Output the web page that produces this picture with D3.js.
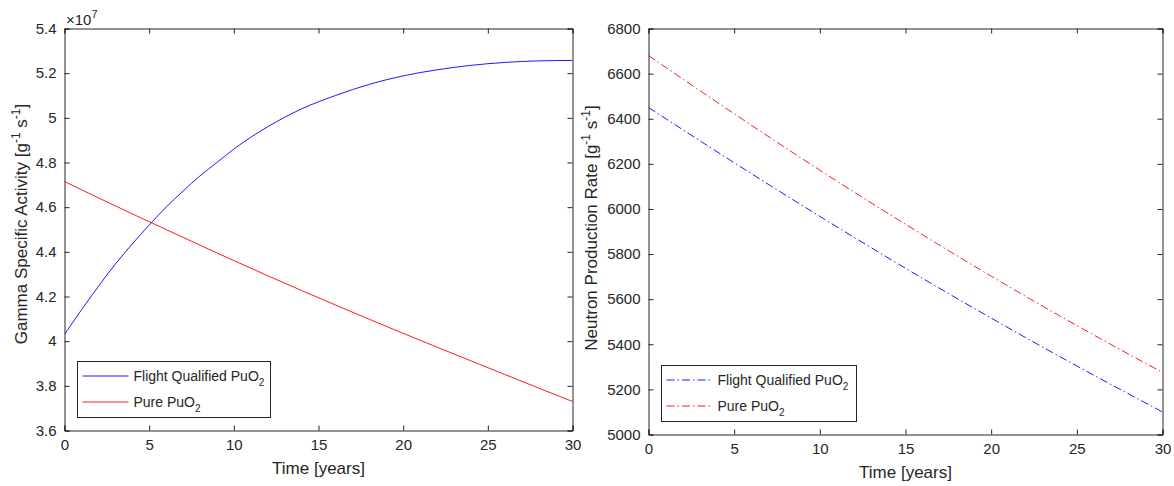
<!DOCTYPE html>
<html>
<head>
<meta charset="utf-8">
<script src="https://cdn.jsdelivr.net/npm/d3@7"></script>
<style>
  html, body { margin: 0; padding: 0; background: #fff; }
  svg { display: block; font-family: "Liberation Sans", Arial, Helvetica, sans-serif; }
</style>
</head>
<body>
<svg id="chart" width="1174" height="486"></svg>
<script>
// Time axis samples [years]
const years = [0, 1, 2, 3, 4, 5, 6, 7, 8, 9, 10, 12, 14, 16, 18, 20, 22, 24, 26, 28, 30];

// Gamma specific activity [g^-1 s^-1]
const gammaFlightQualified = [4.030e7, 4.140e7, 4.245e7, 4.345e7, 4.435e7, 4.520e7, 4.600e7, 4.672e7, 4.740e7, 4.800e7, 4.860e7,
  4.960e7, 5.040e7, 5.100e7, 5.150e7, 5.188e7, 5.215e7, 5.235e7, 5.248e7, 5.255e7, 5.257e7];
const gammaPure = [4.715e7, 4.678e7, 4.642e7, 4.606e7, 4.570e7, 4.535e7, 4.500e7, 4.465e7, 4.430e7, 4.395e7, 4.361e7,
  4.293e7, 4.227e7, 4.162e7, 4.098e7, 4.035e7, 3.973e7, 3.912e7, 3.851e7, 3.790e7, 3.730e7];

// Neutron production rate [g^-1 s^-1]
const neutronYears = [0, 5, 10, 15, 20, 25, 30];
const neutronFlightQualified = [6450, 6205, 5967, 5737, 5516, 5304, 5100];
const neutronPure = [6680, 6422, 6172, 5932, 5702, 5483, 5275];

// Tick values
const timeTicks = [0, 5, 10, 15, 20, 25, 30];
const gammaTicks = [3.6e7, 3.8e7, 4.0e7, 4.2e7, 4.4e7, 4.6e7, 4.8e7, 5.0e7, 5.2e7, 5.4e7];
const neutronTicks = [5000, 5200, 5400, 5600, 5800, 6000, 6200, 6400, 6600, 6800];

const seriesNames = ["Flight Qualified PuO", "Pure PuO"];
const seriesColors = ["#0000ff", "#ff0000"];

const ink = "#262626";
const svg = d3.select("#chart");

function panel(opts) {
  const g = svg.append("g");
  const x = d3.scaleLinear().domain([0, 30]).range([opts.left, opts.right]);
  const y = d3.scaleLinear().domain(opts.yDomain).range([opts.bottom, opts.top]);
  const tickLen = 5;

  // plot lines
  const clipId = "clip" + opts.id;
  svg.append("clipPath").attr("id", clipId).append("rect")
    .attr("x", opts.left).attr("y", opts.top)
    .attr("width", opts.right - opts.left).attr("height", opts.bottom - opts.top);

  opts.series.forEach((s, i) => {
    const line = d3.line()
      .x((d, k) => x(s.t[k]))
      .y(d => y(d))
      .curve(d3.curveMonotoneX);
    g.append("path")
      .attr("clip-path", `url(#${clipId})`)
      .attr("d", line(s.v))
      .attr("fill", "none")
      .attr("stroke", seriesColors[i])
      .attr("stroke-width", 0.9)
      .attr("stroke-dasharray", opts.dash || null);
  });

  // axes, ticks inward on all four sides
  const axB = d3.axisBottom(x).tickValues(timeTicks).tickSize(-tickLen).tickPadding(9).tickFormat(d3.format("d"));
  const axT = d3.axisTop(x).tickValues(timeTicks).tickSize(-tickLen).tickFormat("");
  const axL = d3.axisLeft(y).tickValues(opts.yTicks).tickSize(-tickLen).tickPadding(8).tickFormat(opts.yFormat);
  const axR = d3.axisRight(y).tickValues(opts.yTicks).tickSize(-tickLen).tickFormat("");

  const gb = g.append("g").attr("transform", `translate(0,${opts.bottom})`).call(axB);
  const gt = g.append("g").attr("transform", `translate(0,${opts.top})`).call(axT);
  const gl = g.append("g").attr("transform", `translate(${opts.left},0)`).call(axL);
  const gr = g.append("g").attr("transform", `translate(${opts.right},0)`).call(axR);
  [gb, gt, gl, gr].forEach(a => {
    a.select(".domain").attr("stroke", ink).attr("stroke-width", 1);
    a.selectAll(".tick line").attr("stroke", ink).attr("stroke-width", 1);
    a.selectAll(".tick text").attr("fill", ink).style("font-size", "15px").style("font-family", "Liberation Sans, Arial, sans-serif");
  });

  // x label
  g.append("text")
    .attr("x", (opts.left + opts.right) / 2)
    .attr("y", opts.bottom + 43)
    .attr("text-anchor", "middle")
    .attr("fill", ink)
    .style("font-size", "17px")
    .text("Time [years]");

  // y label with superscripts
  const yl = g.append("text")
    .attr("transform", `translate(${opts.yLabelX},${opts.yLabelY}) rotate(-90)`)
    .attr("text-anchor", "middle")
    .attr("fill", ink)
    .style("font-size", "17px");
  yl.append("tspan").text(opts.yLabel + " [g");
  yl.append("tspan").attr("dy", -7).style("font-size", "12px").text("-1");
  yl.append("tspan").attr("dy", 7).text(" s");
  yl.append("tspan").attr("dy", -7).style("font-size", "12px").text("-1");
  yl.append("tspan").attr("dy", 7).text("]");

  // legend
  const L = opts.legend;
  g.append("rect")
    .attr("x", L.x).attr("y", L.y).attr("width", L.w).attr("height", L.h)
    .attr("fill", "#fff").attr("stroke", ink).attr("stroke-width", 1);
  seriesNames.forEach((name, i) => {
    const ly = Math.round(L.y + 14 + i * 26.5);
    g.append("line")
      .attr("x1", L.x + 5).attr("x2", L.x + 51)
      .attr("y1", ly).attr("y2", ly)
      .attr("stroke", seriesColors[i]).attr("stroke-width", 0.9)
      .attr("stroke-dasharray", opts.dash || null);
    const t = g.append("text")
      .attr("x", L.x + 56).attr("y", ly + 5)
      .attr("fill", ink)
      .style("font-size", "14px");
    t.append("tspan").text(name);
    t.append("tspan").attr("dy", 5).style("font-size", "10px").text("2");
  });

  return { g, x, y };
}

const left = panel({
  id: "A", left: 64.5, right: 572.5, top: 28.5, bottom: 430.5,
  yDomain: [3.6e7, 5.4e7], yTicks: gammaTicks,
  yFormat: d => String(+(d / 1e7).toFixed(1)),
  yLabel: "Gamma Specific Activity", yLabelX: 27, yLabelY: 224,
  series: [{ t: years, v: gammaFlightQualified }, { t: years, v: gammaPure }],
  legend: { x: 77.5, y: 361.5, w: 193, h: 56 }
});

// exponent marker above the left y axis
const ex = left.g.append("text")
  .attr("x", 66).attr("y", 25)
  .attr("fill", ink).style("font-size", "15px");
ex.append("tspan").text("\u00d710");
ex.append("tspan").attr("dy", -7).style("font-size", "11px").text("7");

panel({
  id: "B", left: 648.5, right: 1162.5, top: 28.5, bottom: 434.5,
  yDomain: [5000, 6800], yTicks: neutronTicks,
  yFormat: d3.format("d"),
  yLabel: "Neutron Production Rate", yLabelX: 597, yLabelY: 228,
  dash: "8,3,1.5,3",
  series: [{ t: neutronYears, v: neutronFlightQualified }, { t: neutronYears, v: neutronPure }],
  legend: { x: 661.5, y: 365.5, w: 195, h: 56 }
});
</script>
</body>
</html>
